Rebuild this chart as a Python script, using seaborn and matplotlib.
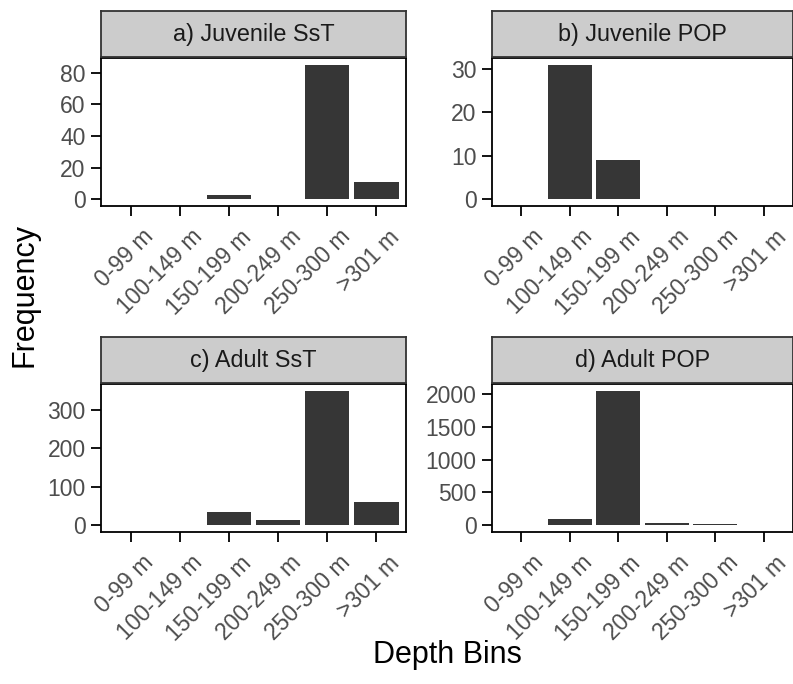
import seaborn as sns
import matplotlib.pyplot as plt
import matplotlib.transforms as mtransforms
import pandas as pd

depth_bins = ['0-99 m', '100-149 m', '150-199 m', '200-249 m', '250-300 m', '>301 m']
panel_titles = ['a) Juvenile SsT', 'b) Juvenile POP', 'c) Adult SsT', 'd) Adult POP']
juvenile_sst = [0, 0, 3, 0, 85, 11]
juvenile_pop = [0, 31, 9, 0, 0, 0]
adult_sst = [0, 0, 34, 13, 350, 60]
adult_pop = [8, 100, 2050, 28, 25, 0]
y_ticks = [[0, 20, 40, 60, 80], [0, 10, 20, 30], [0, 100, 200, 300], [0, 500, 1000, 1500, 2000]]

counts = [juvenile_sst, juvenile_pop, adult_sst, adult_pop]
df = pd.concat([pd.DataFrame({'panel': t, 'bin': depth_bins, 'freq': c})
                for t, c in zip(panel_titles, counts)])

sns.set_theme(style='white')
plt.rcParams['font.family'] = ['Liberation Sans', 'DejaVu Sans']

W, H = 793, 684
fig = plt.figure(figsize=(W / 100, H / 100), dpi=100)

# panel boxes in pixels: left, right, top, bottom (plot area); strip sits above
boxes = [(101, 406, 58, 206), (492, 793, 58, 206),
         (101, 406, 384, 532), (492, 793, 384, 532)]
strip_h = 46

for i, (title, (l, r, t, b)) in enumerate(zip(panel_titles, boxes)):
    ax = fig.add_axes([l / W, 1 - b / H, (r - l) / W, (b - t) / H])
    sub = df[df['panel'] == title]
    sns.barplot(data=sub, x='bin', y='freq', order=depth_bins, color='#363636',
                saturation=1, width=0.9, edgecolor='none', ax=ax)
    ymax = max(sub['freq'])
    ax.set_ylim(-0.05 * ymax, 1.05 * ymax)
    ax.set_xlim(-0.6, 5.6)
    ax.set_yticks(y_ticks[i])
    ax.set_xlabel('')
    ax.set_ylabel('')
    ax.set_xticks(range(len(depth_bins)))
    ax.tick_params(axis='both', which='both', direction='out', length=7, width=1.3,
                   color='black', labelsize=16.5, labelcolor='#4d4d4d', pad=4,
                   bottom=True, left=True)
    ax.set_xticklabels(depth_bins, rotation=45, ha='right', va='top',
                       rotation_mode='anchor')
    # nudge rotated labels so their ends sit just right of each tick (ggplot look)
    shift = mtransforms.ScaledTranslation(11 / 100, -4 / 100, fig.dpi_scale_trans)
    for lab in ax.get_xticklabels():
        lab.set_transform(lab.get_transform() + shift)
    for s in ax.spines.values():
        s.set_color('black')
        s.set_linewidth(1.3)
        s.set_visible(True)

    sax = fig.add_axes([l / W, 1 - (t - 1) / H, (r - l) / W, strip_h / H])
    sax.set_facecolor('#cccccc')
    sax.set_xticks([])
    sax.set_yticks([])
    for s in sax.spines.values():
        s.set_color('#333333')
        s.set_linewidth(1.3)
    sax.text(0.5, 0.5, title, ha='center', va='center', fontsize=16.8,
             color='#1a1a1a', transform=sax.transAxes)

fig.text(25 / W, 1 - 295 / H, 'Frequency', rotation=90, ha='center', va='center',
         fontsize=22, color='black')
fig.text(447 / W, 1 - 655 / H, 'Depth Bins', ha='center', va='center',
         fontsize=22, color='black')

fig.savefig('out.png', dpi=100)
